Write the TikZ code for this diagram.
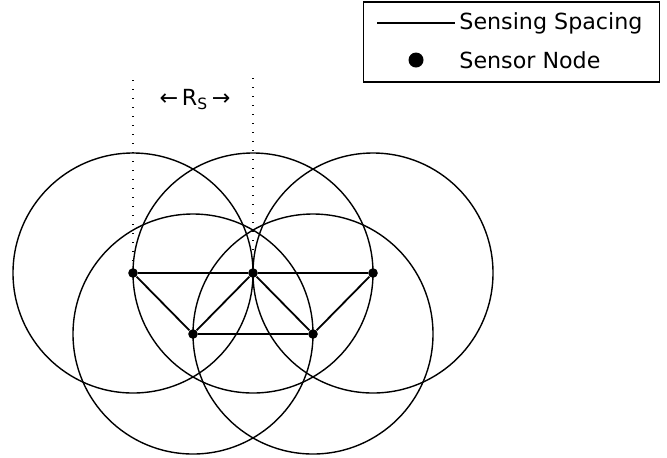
\documentclass[tikz,border=0pt]{standalone}
\usepackage{fontspec}
\setmainfont{DejaVu Sans}
\usetikzlibrary{positioning}

\begin{document}
\begin{tikzpicture}[x=0.5pt, y=-0.5pt, font=\fontsize{11.1}{13}\selectfont,
      sensor/.style={circle, fill, inner sep=0pt, minimum size=4.8pt},
      coverage/.style={line width=0.7pt},
      link/.style={line width=0.9pt},
      guide/.style={line width=0.7pt, dash pattern=on 0.7pt off 3.8pt},
      keybox/.style={draw, line width=0.7pt, inner sep=0pt},
      txt/.style={anchor=base west, inner sep=0pt}]
    \useasboundingbox (0,0) rectangle (667,457);
    % sensor nodes
    \node[sensor] (s1) at (133,273) {};
    \node[sensor] (s2) at (253,273) {};
    \node[sensor] (s3) at (373,273) {};
    \node[sensor] (s4) at (193,334) {};
    \node[sensor] (s5) at (313,334) {};
    % sensing ranges
    \foreach \s in {s1,s2,s3,s4,s5}
      \draw[coverage] (\s) circle[radius=120];
    % spacing links
    \draw[link] (s1) -- (s2) -- (s3);
    \draw[link] (s4) -- (s5);
    \draw[link] (s1) -- (s4) -- (s2) -- (s5) -- (s3);
    % radius marker
    \coordinate (g1) at (133,80);
    \coordinate (g2) at (253,78);
    \draw[guide] (g1) -- (s1);
    \draw[guide] (g2) -- (s2);
    \node[anchor=base, inner sep=0pt] (rs) at (195,105) {←\,R\textsubscript{S}\,→};
    % legend
    \node[keybox, minimum width=148pt, minimum height=40pt] (legend) at (511.5,42) {};
    \coordinate (k1) at (377,23);
    \coordinate (k2) at (455,23);
    \draw[coverage] (k1) -- (k2);
    \node[txt] (ktxt1) at (459,29.5) {Sensing Spacing};
    \node[sensor, minimum size=7.5pt] (kdot) at (416,60) {};
    \node[txt] (ktxt2) at (459,68) {Sensor Node};
  \end{tikzpicture}
\end{document}
